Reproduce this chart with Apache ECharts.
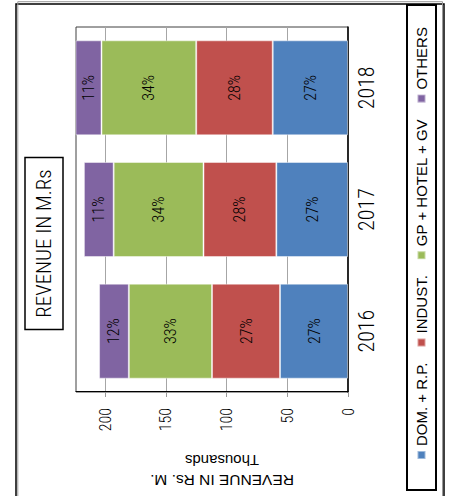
<!DOCTYPE html>
<html><head><meta charset="utf-8">
<script src="https://cdn.jsdelivr.net/npm/echarts@6/dist/echarts.min.js"></script>
<style>
html,body{margin:0;padding:0;background:#fff;overflow:hidden;width:451px;height:496px;}
#wrap{position:absolute;left:0;top:0;width:451px;height:496px;overflow:hidden;}
#chart{position:absolute;width:496px;height:451px;left:0;top:0;transform-origin:0 0;transform:translate(0px,496px) rotate(-90deg);}
</style></head><body>
<div id="wrap"><div id="chart"></div></div>
<script>
const categories = ['2016', '2017', '2018'];
const seriesNames = ['DOM. + R.P.', 'INDUST.', 'GP + HOTEL + GV', 'OTHERS'];
const domRP = [56, 59, 62];
const indust = [56, 60, 63];
const gpHotelGv = [68.5, 74, 78];
const others = [24.5, 24.5, 25];
const valueTicks = [0, 50, 100, 150, 200];
const colors = ['#4F81BD', '#C0504D', '#9BBB59', '#8064A2'];

const totals = categories.map((_, i) => domRP[i] + indust[i] + gpHotelGv[i] + others[i]);
const FONT = 'Liberation Sans';
const NARROW = '"Roboto Condensed", "Liberation Sans", sans-serif';
const seriesData = [domRP, indust, gpHotelGv, others];

const chart = echarts.init(document.getElementById('chart'), null, {renderer: 'svg'});
chart.setOption({
  animation: false,
  backgroundColor: '#fff',
  color: colors,
  textStyle: {fontFamily: FONT, color: '#000'},
  title: {
    text: 'REVENUE IN M.Rs',
    left: 240.5, top: 25, textAlign: 'center',
    padding: [8, 12],
    borderColor: '#000', borderWidth: 1.5,
    textStyle: {fontFamily: NARROW, fontSize: 21, fontWeight: 350, color: '#000', lineHeight: 22}
  },
  legend: {
    left: 6, top: 407,
    padding: [7, 22, 7, 30],
    itemWidth: 8, itemHeight: 8, itemGap: 15,
    icon: 'rect',
    borderColor: '#000', borderWidth: 2,
    textStyle: {fontFamily: FONT, fontSize: 15, color: '#000'},
    data: seriesNames
  },
  graphic: [
    {type: 'rect', shape: {x: -10, y: 16, width: 502, height: 428}, style: {fill: 'none', stroke: '#000', lineWidth: 1.5}, z: -1},
    {type: 'rect', shape: {x: -10, y: 17.8, width: 504.3, height: 424.7}, style: {fill: 'none', stroke: '#999', lineWidth: 1}, z: -1}
  ],
  grid: {left: 97, right: 27, top: 76, bottom: 103, show: true, borderColor: '#404040', borderWidth: 1, backgroundColor: 'transparent'},
  xAxis: {
    type: 'category', data: categories,
    axisLine: {lineStyle: {color: '#000', width: 1.5}},
    axisTick: {alignWithLabel: true, length: 5, lineStyle: {color: '#000'}},
    axisLabel: {fontFamily: NARROW, fontSize: 22, fontWeight: 350, color: '#000', margin: 7}
  },
  yAxis: {
    type: 'value', min: 0, max: 224, interval: 50,
    name: '{a|REVENUE IN Rs. M.}\n{b|Thousands}',
    nameLocation: 'middle', nameRotate: 90, nameGap: 58,
    nameTextStyle: {padding: [0, 20, 0, 0], rich: {a: {fontFamily: FONT, fontSize: 15.5, lineHeight: 20, color: '#000'}, b: {fontFamily: FONT, fontSize: 15, lineHeight: 20, color: '#000'}}},
    axisLine: {show: true, lineStyle: {color: '#000', width: 1}},
    axisTick: {show: true, length: 5, customValues: valueTicks, lineStyle: {color: '#999'}},
    axisLabel: {fontFamily: NARROW, fontSize: 16, fontWeight: 350, color: '#000', margin: 16, customValues: valueTicks},
    splitLine: {lineStyle: {color: '#a6a6a6', width: 1}}
  },
  series: seriesNames.map((name, k) => ({
    name, type: 'bar', stack: 'total', barWidth: 95,
    data: seriesData[k],
    itemStyle: {borderColor: 'rgba(255,255,255,0.45)', borderWidth: 1},
    label: {
      show: true, position: 'inside', color: '#000', fontFamily: NARROW, fontSize: 16, fontWeight: 350,
      formatter: p => Math.round(p.value / totals[p.dataIndex] * 100) + '%'
    }
  }))
});
</script>
</body></html>
